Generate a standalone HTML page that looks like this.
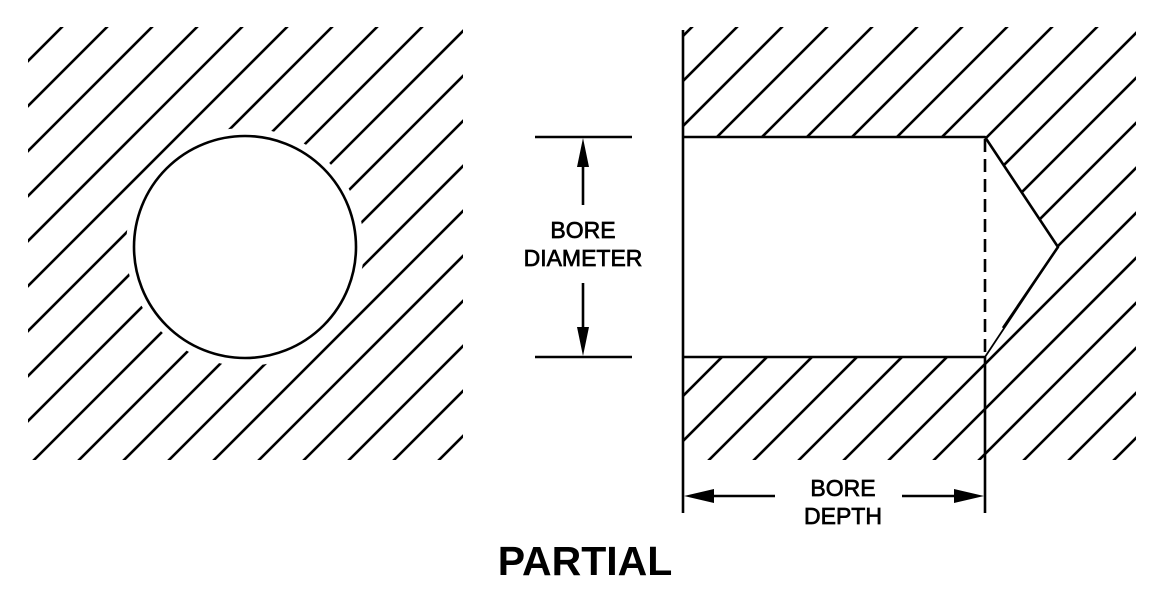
<!DOCTYPE html>
<html><head><meta charset="utf-8"><style>
html,body{margin:0;padding:0;background:#fff;width:1164px;height:590px;overflow:hidden;}
svg{display:block;overflow:hidden}
text{font-family:"Liberation Sans",Arial,sans-serif;fill:#000}
</style></head><body>
<svg width="1164" height="590" viewBox="0 0 1164 590" xmlns="http://www.w3.org/2000/svg">
<defs>
<clipPath id="cl"><rect x="28" y="27" width="435" height="433"/></clipPath>
<clipPath id="cr"><rect x="683" y="27" width="453" height="433"/></clipPath>
<path id="hp" stroke="#000" stroke-width="2.6" fill="none" d="M89,0L-411,500M134,0L-366,500M179,0L-321,500M224,0L-276,500M269,0L-231,500M314,0L-186,500M359,0L-141,500M404,0L-96,500M449,0L-51,500M494,0L-6,500M539,0L39,500M584,0L84,500M629,0L129,500M674,0L174,500M719,0L219,500M764,0L264,500M809,0L309,500M854,0L354,500M899,0L399,500M944,0L444,500M989,0L489,500M1034,0L534,500M1079,0L579,500M1124,0L624,500M1169,0L669,500M1214,0L714,500M1259,0L759,500M1304,0L804,500M1349,0L849,500M1394,0L894,500M1439,0L939,500M1484,0L984,500M1529,0L1029,500M1574,0L1074,500M1619,0L1119,500"/>
</defs>
<use href="#hp" clip-path="url(#cl)"/>
<circle cx="245" cy="247" r="111" fill="#fff" stroke="#fff" stroke-width="16"/>
<circle cx="245" cy="247" r="111" fill="none" stroke="#000" stroke-width="2.6"/>
<use href="#hp" clip-path="url(#cr)"/>
<polygon points="683,137 985,137 1058,247 985,357 683,357" fill="#fff"/>
<polyline points="683,137 985,137 1058,247 1003,328" fill="none" stroke="#000" stroke-width="2.6" stroke-linejoin="round"/>
<line x1="1056" y1="250" x2="985" y2="357" stroke="#000" stroke-width="1.8"/>
<line x1="683" y1="357" x2="985" y2="357" stroke="#000" stroke-width="2.6"/>
<line x1="683" y1="30" x2="683" y2="513" stroke="#000" stroke-width="2.6"/>
<line x1="985" y1="139" x2="985" y2="357" stroke="#000" stroke-width="2.6" stroke-dasharray="13,7"/>
<line x1="985" y1="357" x2="985" y2="513" stroke="#000" stroke-width="2.6"/>
<line x1="535" y1="137" x2="632" y2="137" stroke="#000" stroke-width="2.6"/>
<line x1="535" y1="357" x2="632" y2="357" stroke="#000" stroke-width="2.6"/>
<line x1="583" y1="160" x2="583" y2="205" stroke="#000" stroke-width="2.6"/>
<line x1="583" y1="283" x2="583" y2="335" stroke="#000" stroke-width="2.6"/>
<polygon points="583,138 577,167 589,167" fill="#000"/>
<polygon points="583,356 577,327 589,327" fill="#000"/>
<g stroke="#000" stroke-width="0.7">
<text x="583" y="238" font-size="23" text-anchor="middle">BORE</text>
<text x="583" y="266" font-size="23" text-anchor="middle">DIAMETER</text>
<text x="843" y="496" font-size="23" text-anchor="middle">BORE</text>
<text x="843" y="524" font-size="23" text-anchor="middle">DEPTH</text>
</g>
<line x1="700" y1="496" x2="775" y2="496" stroke="#000" stroke-width="2.6"/>
<line x1="902" y1="496" x2="965" y2="496" stroke="#000" stroke-width="2.6"/>
<polygon points="684,496 714,489 714,503" fill="#000"/>
<polygon points="984,496 954,489 954,503" fill="#000"/>
<text x="585" y="575" font-size="41" font-weight="bold" text-anchor="middle">PARTIAL</text>
</svg>
</body></html>
